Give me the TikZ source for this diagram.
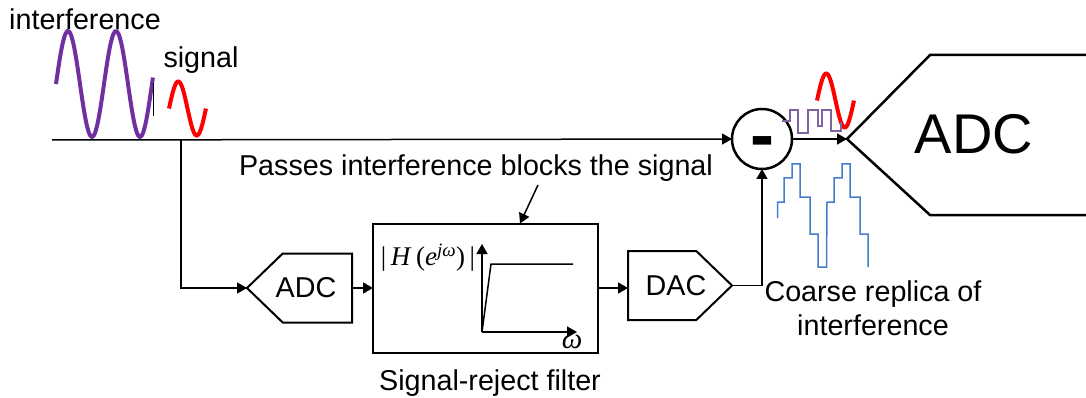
\documentclass[tikz,border=0pt]{standalone}
\usepackage{fontspec}
\setmainfont{Liberation Sans}
\newfontfamily\serifmath{Liberation Serif}
\usetikzlibrary{shapes,arrows,positioning,calc,arrows.meta}
\definecolor{wavepurple}{RGB}{112,48,160}
\definecolor{stepspurple}{RGB}{128,100,162}
\definecolor{replicablue}{RGB}{68,124,206}

\begin{document}
\begin{tikzpicture}[
				x=1pt, y=-1pt,
				font=\fontsize{28.7}{34}\selectfont,
				line width=1.5pt,
				conn/.style={-{Triangle[length=10pt,width=11pt]}},
				adcbox/.style={signal, draw, line width=2pt, signal to=west, signal pointer angle=88, minimum width=105pt, minimum height=69pt, inner sep=0pt, outer sep=0pt},
				dacbox/.style={signal, draw, line width=2pt, signal to=east, signal pointer angle=88, minimum width=104pt, minimum height=69pt, inner sep=0pt, outer sep=0pt},
				filterbox/.style={rectangle, draw, line width=2pt, minimum width=225pt, minimum height=129pt, outer sep=0pt},
				sumbox/.style={circle, draw, line width=2.5pt, minimum size=60pt, inner sep=0pt, outer sep=0pt},
				wave/.style={line width=4pt, smooth, samples=60},
				steps/.style={line width=1.5pt, line join=miter}
				]
				\useasboundingbox (0,0) rectangle (1086,398);
				
				% main path
				\coordinate (input) at (52,140);
				\node[sumbox] (sum) at (762,139) {\raisebox{-21pt}[0pt][0pt]{\fontsize{72}{72}\selectfont\bfseries -}};
				\coordinate (bigtip) at (847,139);
				\draw[line width=2.5pt, line join=miter] (1092,55) -- (930,55) -- (bigtip) -- (930,215) -- (1092,215);
				\node (bigadc) at (974,134) {\fontsize{56}{60}\selectfont ADC};
				\draw[conn] (input) -- (sum.west);
				\draw[conn] (sum.east) -- (bigtip);
				
				% lower path
				\node[adcbox, anchor=west] (adc) at (247,288) {};
				\node[filterbox, right=21pt of adc] (filter) {};
				\node[dacbox, right=30pt of filter, yshift=2.5pt] (dac) {};
				\node (adclabel) at ($(adc.west)+(59,0)$) {ADC};
				\node (daclabel) at ($(dac.west)+(48,0)$) {DAC};
				\coordinate (branch) at (input -| 181,0);
				\draw[conn] (branch) |- (adc.west);
				\draw[conn] (adc.east) -- (filter.west);
				\draw[conn] (filter.east) -- (filter.east -| dac.west);
				\draw[conn] (dac.east) -| (sum.south);
				
				% response inside the filter
				\coordinate (origin) at (482,332);
				\draw[conn] (origin) -- (482,244);
				\draw[conn] (origin) -- (577,332);
				\draw (origin) -- (491,264) -- (573,264);
				\node[inner sep=0pt] (hlabel) at (428,258) {\serifmath\fontsize{27}{27}\selectfont |\,\textit{H}\,(\textit{e}\textsuperscript{\textit{jω}})\,|};
				\node[inner sep=0pt] (wlabel) at (572,342) {\serifmath\fontsize{29}{29}\selectfont\textit{ω}};
				
				% labels
				\node (interf) at (85,19) {interference};
				\node (siglabel) at (201,60) {signal};
				\node (passes) at (476,168) {Passes interference blocks the signal};
				\node (filtername) at (490,383) {Signal-reject filter};
				\node[align=center, text depth=0pt] (replica) at (873,308) {Coarse replica of\\interference};
				\coordinate (passesend) at (538,185);
				\draw[conn] (passesend) -- (filter.north -| 520,0);
				
				% waves
				\draw[wave, wavepurple] plot[domain=0:2.02] ({56+48*\x},{84-53*sin(360*\x)});
				\draw[wave, red] plot[domain=0:1] ({169+37*\x},{108.5-27*sin(360*\x)});
				\draw[wave, red] plot[domain=0:1] ({817+37*\x},{100.5-27*sin(360*\x)});
				\draw (153.5,83) -- (153.5,116);
				\draw[steps, stepspurple] (782,121) -| (790,110) -| (798,133) -| (808,110) -| (818,126) -| (822,110) -| (831,131) -| (841,122);
				\draw[steps, replicablue] (777.5,218) |- (784,202) |- (792,178) |- (800,164) |- (810,197) |- (818,234) |- (826.5,267) -- (827,202) -| (834,178) -| (842,164) -| (850,197) -| (860,234) -| (868,267);
			\end{tikzpicture}
\end{document}
